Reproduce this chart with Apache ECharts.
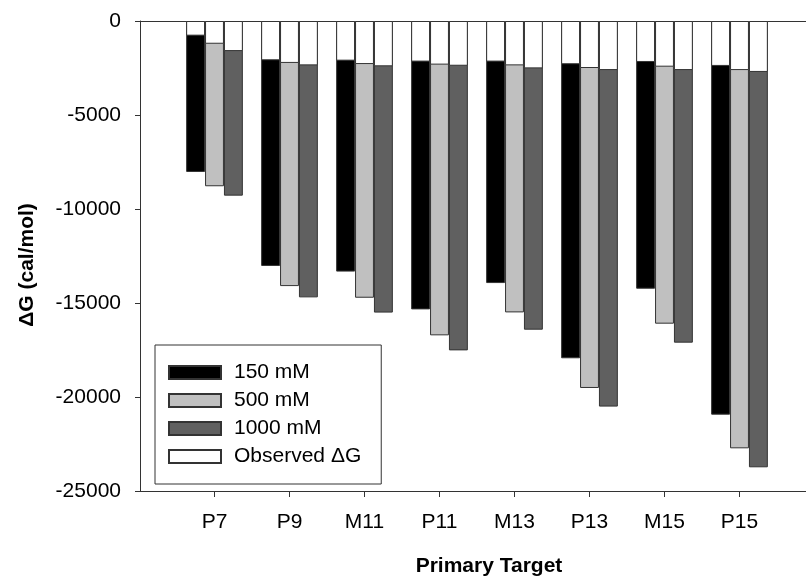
<!DOCTYPE html>
<html>
<head>
<meta charset="utf-8">
<script src="https://cdn.jsdelivr.net/npm/echarts@6/dist/echarts.min.js"></script>
<style>
  html, body { margin: 0; padding: 0; background: #fff; }
  #chart { width: 806px; height: 580px; }
</style>
</head>
<body>
<div id="chart"></div>
<script>
// Primary targets along the x axis
const targets = ['P7', 'P9', 'M11', 'P11', 'M13', 'P13', 'M15', 'P15'];

// Predicted duplex ΔG (cal/mol) at each Na+ concentration
const dG150  = [-8030, -13030, -13330, -15340, -13940, -17940, -14240, -20940];
const dG500  = [-8790, -14100, -14720, -16720, -15500, -19520, -16100, -22730];
const dG1000 = [-9290, -14700, -15510, -17520, -16420, -20510, -17110, -23740];

// Observed ΔG (cal/mol), drawn over each concentration bar
const obs150  = [-780, -2090, -2110, -2160, -2160, -2300, -2180, -2390];
const obs500  = [-1210, -2230, -2290, -2320, -2360, -2500, -2430, -2610];
const obs1000 = [-1600, -2360, -2410, -2380, -2520, -2610, -2610, -2710];

// Value axis range and step
const yMin = -25000;
const yMax = 0;
const yStep = 5000;

const FONT = 'Liberation Sans, Arial, Helvetica, sans-serif';
const EDGE = '#333333';

const chart = echarts.init(document.getElementById('chart'), null, { renderer: 'canvas' });

function barSeries(name, values, fill, axisIdx, z) {
  return {
    name: name,
    type: 'bar',
    xAxisIndex: axisIdx,
    yAxisIndex: 1,
    data: values,
    barGap: '0%',
    barCategoryGap: '24.4%',
    z: z,
    itemStyle: { color: fill, borderColor: EDGE, borderWidth: 1 },
    emphasis: { disabled: true },
    animation: false
  };
}

const option = {
  animation: false,
  backgroundColor: '#ffffff',
  textStyle: { fontFamily: FONT },
  grid: [
    // frame: y axis plus bottom and top lines
    { left: 140, right: 0, top: 21, height: 470 },
    // bars
    { left: 177, width: 600, top: 21, height: 470 }
  ],
  xAxis: [
    {
      gridIndex: 0, type: 'value', position: 'bottom', min: 0, max: 1,
      axisLine: { show: true, onZero: false, lineStyle: { color: EDGE, width: 1 } },
      axisTick: { show: false }, axisLabel: { show: false }, splitLine: { show: false }
    },
    {
      gridIndex: 0, type: 'value', position: 'top', min: 0, max: 1,
      axisLine: { show: true, onZero: false, lineStyle: { color: EDGE, width: 1 } },
      axisTick: { show: false }, axisLabel: { show: false }, splitLine: { show: false }
    },
    {
      gridIndex: 1, type: 'category', position: 'bottom', data: targets,
      axisLine: { show: false, onZero: false },
      axisTick: { show: true, alignWithLabel: true, length: 6, lineStyle: { color: EDGE, width: 1 } },
      axisLabel: { show: true, margin: 21, color: '#000', fontSize: 21, fontFamily: FONT },
      splitLine: { show: false }
    },
    {
      gridIndex: 1, type: 'category', data: targets, show: false
    }
  ],
  yAxis: [
    {
      gridIndex: 0, type: 'value', min: yMin, max: yMax, interval: yStep,
      axisLine: { show: true, onZero: false, lineStyle: { color: EDGE, width: 1 } },
      axisTick: { show: true, inside: false, length: 5, lineStyle: { color: EDGE, width: 1 } },
      axisLabel: { show: true, margin: 19, color: '#000', fontSize: 21, fontFamily: FONT,
                   formatter: v => String(v) },
      splitLine: { show: false }
    },
    {
      gridIndex: 1, type: 'value', min: yMin, max: yMax, interval: yStep, show: false
    }
  ],
  legend: {
    orient: 'vertical',
    left: 155,
    top: 345,
    data: ['150 mM', '500 mM', '1000 mM', 'Observed ΔG'],
    icon: 'rect',
    itemWidth: 52,
    itemHeight: 13,
    itemGap: 7,
    padding: [17, 20, 17, 13],
    borderColor: EDGE,
    borderWidth: 1,
    backgroundColor: '#ffffff',
    selectedMode: false,
    textStyle: { fontSize: 21, lineHeight: 20, color: '#000', fontFamily: FONT, padding: [0, 0, 0, 8] }
  },
  graphic: [
    {
      type: 'text', x: 489, y: 566,
      style: { text: 'Primary Target', font: 'bold 21px ' + FONT, fill: '#000',
               textAlign: 'center', textVerticalAlign: 'middle' }
    },
    {
      type: 'text', x: 27.5, y: 265, rotation: Math.PI / 2,
      style: { text: 'ΔG (cal/mol)', font: 'bold 21px ' + FONT, fill: '#000',
               textAlign: 'center', textVerticalAlign: 'middle' }
    }
  ],
  series: [
    barSeries('150 mM', dG150, '#000000', 2, 2),
    barSeries('500 mM', dG500, '#c0c0c0', 2, 2),
    barSeries('1000 mM', dG1000, '#606060', 2, 2),
    barSeries('Observed ΔG', obs150, '#ffffff', 3, 3),
    barSeries('Observed ΔG', obs500, '#ffffff', 3, 3),
    barSeries('Observed ΔG', obs1000, '#ffffff', 3, 3)
  ]
};

chart.setOption(option);
</script>
</body>
</html>
